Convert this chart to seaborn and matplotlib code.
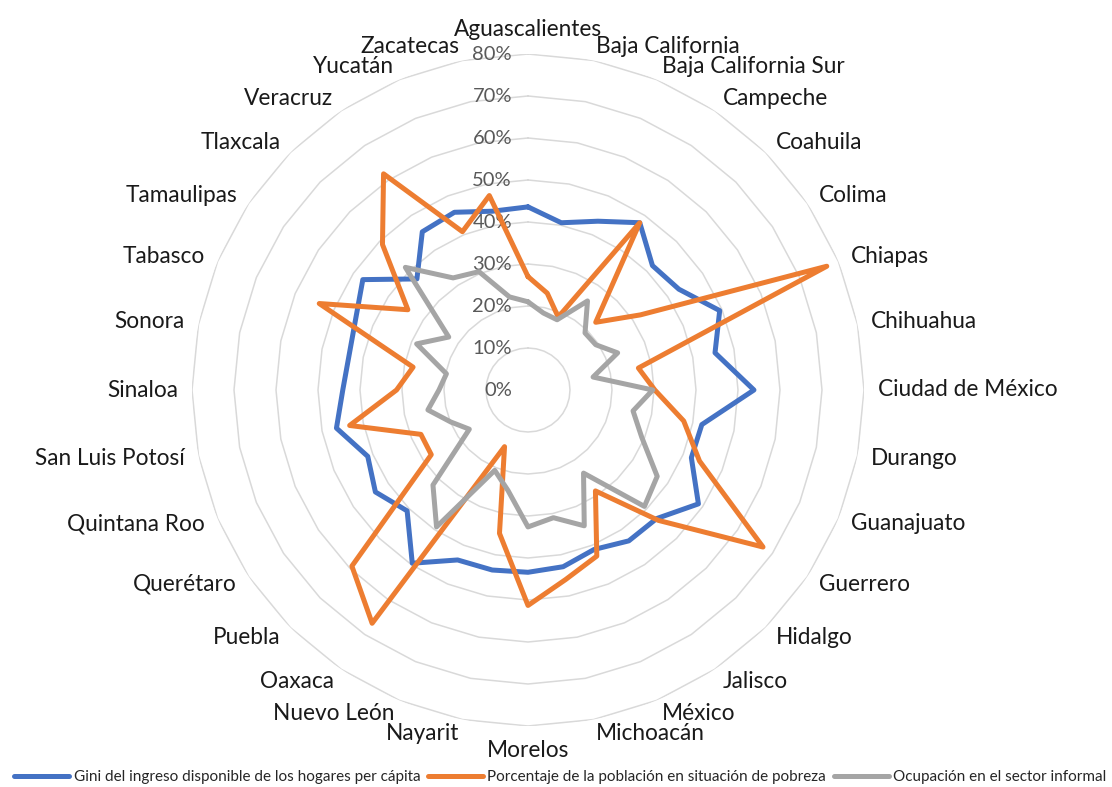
import numpy as np
import pandas as pd
import seaborn as sns
import matplotlib.pyplot as plt

# Entidades federativas, en el orden del radar (sentido horario desde arriba)
estados = [
    "Aguascalientes", "Baja California", "Baja California Sur", "Campeche",
    "Coahuila", "Colima", "Chiapas", "Chihuahua", "Ciudad de México",
    "Durango", "Guanajuato", "Guerrero", "Hidalgo", "Jalisco", "México",
    "Michoacán", "Morelos", "Nayarit", "Nuevo León", "Oaxaca", "Puebla",
    "Querétaro", "Quintana Roo", "San Luis Potosí", "Sinaloa", "Sonora",
    "Tabasco", "Tamaulipas", "Tlaxcala", "Veracruz", "Yucatán", "Zacatecas",
]

# valores en %
gini = [43.6, 40.6, 43.5, 47.9, 41.9, 43.2, 49.4, 45.4, 53.8, 42.2, 42.1,
        48.8, 43.3, 43.2, 41.1, 42.9, 43.4, 43.7, 43.8, 49.6, 40.7, 43.7,
        41.3, 46.5, 44.1, 43.4, 44.4, 47.3, 37.4, 45.3, 45.8, 43.4]
pobreza = [27.0, 23.5, 18.8, 47.9, 22.8, 32.2, 77.0, 26.8, 30.2, 37.8, 44.2,
           67.3, 43.9, 28.9, 42.8, 46.0, 51.3, 34.8, 14.6, 66.8, 59.3, 27.7,
           27.6, 43.3, 31.3, 27.9, 53.8, 34.4, 49.0, 61.9, 40.8, 47.2]
informal = [21.0, 18.7, 18.1, 25.5, 19.2, 19.4, 23.1, 15.8, 29.7, 25.5, 29.3,
            37.0, 39.2, 23.8, 35.0, 31.0, 32.6, 24.4, 20.7, 39.2, 32.0, 16.8,
            19.9, 24.3, 21.2, 19.8, 28.7, 22.7, 41.3, 32.1, 30.5, 22.6]

series = {
    "Gini del ingreso disponible de los hogares per cápita": gini,
    "Porcentaje de la población en situación de pobreza": pobreza,
    "Ocupación en el sector informal": informal,
}
colores = ["#4472C4", "#ED7D31", "#A5A5A5"]
niveles = [0.1, 0.2, 0.3, 0.4, 0.5, 0.6, 0.7, 0.8]

n = len(estados)
angulos = np.linspace(0, 2 * np.pi, n, endpoint=False)
cerrado = np.append(angulos, 2 * np.pi)  # cierra el poligono

# tabla larga: cada serie repite su primer valor al final
partes = []
for nombre, vals in series.items():
    vals = np.asarray(vals) / 100
    partes.append(pd.DataFrame({
        "serie": nombre,
        "theta": cerrado,
        "valor": np.append(vals, vals[0]),
    }))
df = pd.concat(partes, ignore_index=True)

sns.set_style("white")
plt.rcParams["font.family"] = ["Lato", "DejaVu Sans"]

fig = plt.figure(figsize=(11.12, 7.87), dpi=100)
ax = fig.add_axes([192 / 1112, 61 / 787, 672 / 1112, 672 / 787], projection="polar")
ax.set_theta_zero_location("N")
ax.set_theta_direction(-1)
ax.set_ylim(0, 0.8)
ax.grid(False)
ax.set_xticks([])
ax.set_yticks([])
ax.spines["polar"].set_visible(False)

# rejilla poligonal
for r in niveles:
    ax.plot(cerrado, [r] * len(cerrado), color="#d9d9d9", lw=1.1, zorder=1)

sns.lineplot(
    ax=ax, data=df, x="theta", y="valor", hue="serie", palette=colores,
    sort=False, estimator=None, units="serie", lw=3.6, zorder=3,
)

# etiquetas del eje radial
for r in [0.0] + niveles:
    ax.annotate(f"{r:.0%}", xy=(0, r), xytext=(-16, 0), textcoords="offset pixels",
                ha="right", va="center", fontsize=14.5, color="#595959", zorder=2)

# etiquetas de categoria
for ang, nombre in zip(angulos, estados):
    s = np.sin(ang)
    ha = "left" if s > 0.05 else ("right" if s < -0.05 else "center")
    va = "center"
    if abs(ang) < 1e-6:
        va = "bottom"
    elif abs(ang - np.pi) < 1e-6:
        va = "top"
    ax.text(ang, 0.8 * 350 / 336, nombre, ha=ha, va=va, fontsize=16.3, color="#1a1a1a")

sns.move_legend(
    ax, "center", bbox_to_anchor=(0.548, -0.076), ncol=3, frameon=False, title=None,
    fontsize=11, handlelength=3.6, handletextpad=0.3, columnspacing=0.5,
)

fig.savefig("out.png", dpi=100)
